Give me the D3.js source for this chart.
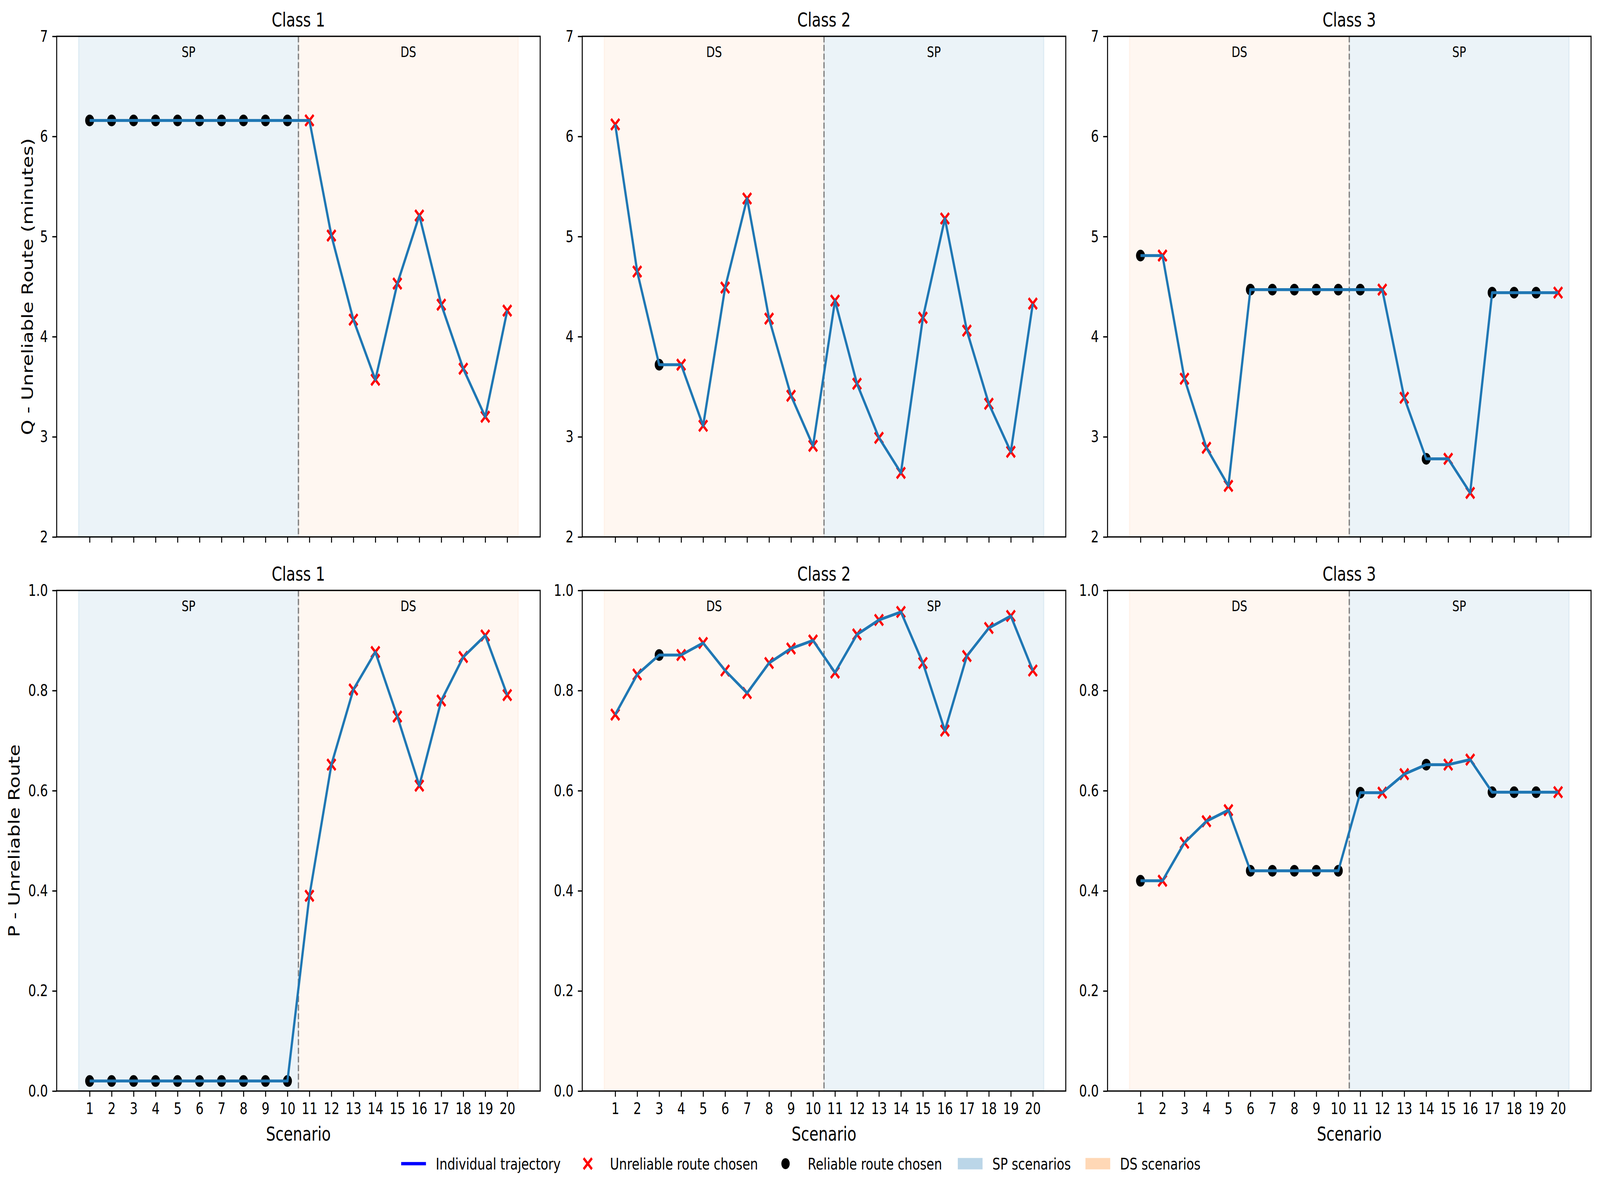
<!DOCTYPE html>
<html><head><meta charset="utf-8">
<script src="https://cdn.jsdelivr.net/npm/d3@7/dist/d3.min.js"></script>
<style>
html,body{margin:0;padding:0;background:#fff;overflow:hidden;width:100vw;height:100vh}
svg{display:block;width:100vw;height:100vh}
text{font-family:"DejaVu Sans",sans-serif;fill:#000}
</style>
</head><body>
<svg id="chart" viewBox="0 0 5364 3050" preserveAspectRatio="none"></svg>
<script>
// ---------------- data ----------------
const scenarios = [1,2,3,4,5,6,7,8,9,10,11,12,13,14,15,16,17,18,19,20];
const classNames = ["Class 1", "Class 2", "Class 3"];
const qTicks = [2, 3, 4, 5, 6, 7];
const pTicks = [0.0, 0.2, 0.4, 0.6, 0.8, 1.0];
const firstHalfRegime = ["SP", "DS", "DS"];
const secondHalfRegime = ["DS", "SP", "SP"];

const qClass1 = [6.16,6.16,6.16,6.16,6.16,6.16,6.16,6.16,6.16,6.16,6.16,5.01,4.17,3.57,4.53,5.21,4.32,3.68,3.20,4.26];
const qClass2 = [6.12,4.65,3.72,3.72,3.11,4.49,5.38,4.18,3.41,2.91,4.36,3.53,2.99,2.64,4.19,5.18,4.06,3.33,2.85,4.33];
const qClass3 = [4.81,4.81,3.58,2.89,2.51,4.47,4.47,4.47,4.47,4.47,4.47,4.47,3.39,2.78,2.78,2.44,4.44,4.44,4.44,4.44];

const pClass1 = [0.02,0.02,0.02,0.02,0.02,0.02,0.02,0.02,0.02,0.02,0.39,0.652,0.802,0.877,0.748,0.610,0.780,0.867,0.910,0.791];
const pClass2 = [0.752,0.832,0.871,0.871,0.895,0.840,0.795,0.855,0.884,0.900,0.836,0.912,0.941,0.957,0.855,0.720,0.869,0.925,0.949,0.840];
const pClass3 = [0.420,0.420,0.496,0.539,0.561,0.440,0.440,0.440,0.440,0.440,0.596,0.596,0.633,0.652,0.652,0.662,0.597,0.597,0.597,0.597];

// R = reliable route chosen, U = unreliable route chosen
const choiceClass1 = ["R","R","R","R","R","R","R","R","R","R","U","U","U","U","U","U","U","U","U","U"];
const choiceClass2 = ["U","U","R","U","U","U","U","U","U","U","U","U","U","U","U","U","U","U","U","U"];
const choiceClass3 = ["R","U","U","U","U","R","R","R","R","R","R","U","U","R","U","U","R","R","R","U"];

const legendLabels = ["Individual trajectory","Unreliable route chosen","Reliable route chosen","SP scenarios","DS scenarios"];

// ---------------- layout ----------------
const svg = d3.select("#chart");
const lefts = [190, 1952, 3713];
const tops = [93, 1512];
const PW = 1621, PH = 1282;
const FS = 41.67;            // 10pt @300dpi
const TICK = 14.6, PAD = 14.6;
const COLORS = {line:"#1f77b4", x:"#ff0000", dot:"#000000",
  spFill:"rgba(31,119,180,0.09)", dsFill:"rgba(255,127,14,0.06)",
  spLeg:"rgba(31,119,180,0.3)", dsLeg:"rgba(255,127,14,0.3)"};

const qSeries = [qClass1, qClass2, qClass3];
const pSeries = [pClass1, pClass2, pClass3];
const choices = [choiceClass1, choiceClass2, choiceClass3];

function panel(row, col) {
  const x0 = lefts[col], y0 = tops[row];
  const g = svg.append("g").attr("transform", `translate(${x0},${y0})`);
  const x = d3.scaleLinear().domain([-0.5, 21.5]).range([0, PW]);
  const y = row === 0 ? d3.scaleLinear().domain([2, 7]).range([PH, 0])
                      : d3.scaleLinear().domain([0, 1]).range([PH, 0]);
  const vals = row === 0 ? qSeries[col] : pSeries[col];
  const ch = choices[col];

  // regime spans
  const spans = [
    {a:0.5, b:10.5, r:firstHalfRegime[col]},
    {a:10.5, b:20.5, r:secondHalfRegime[col]}
  ];
  spans.forEach(s => {
    const fill = s.r === "SP" ? COLORS.spFill : COLORS.dsFill;
    g.append("rect").attr("x", x(s.a)).attr("y", 0)
      .attr("width", x(s.b) - x(s.a)).attr("height", PH)
      .attr("fill", fill).attr("stroke", fill).attr("stroke-width", 4);
    g.append("text").attr("x", x((s.a + s.b) / 2)).attr("y", 40)
      .attr("text-anchor", "middle").attr("dominant-baseline", "central")
      .style("font-size", "37.5px").text(s.r);
  });

  // divider
  g.append("line").attr("x1", x(10.5)).attr("x2", x(10.5))
    .attr("y1", 0).attr("y2", PH)
    .attr("stroke", "#7f7f7f").attr("stroke-width", 4.2)
    .attr("stroke-dasharray", "15.4,6.7");

  // markers
  const pts = scenarios.map((s, i) => ({s, v: vals[i], c: ch[i]}));
  g.selectAll(".dot").data(pts.filter(d => d.c === "R")).enter()
    .append("circle").attr("cx", d => x(d.s)).attr("cy", d => y(d.v))
    .attr("r", 15).attr("fill", COLORS.dot);
  const h = 14;
  g.selectAll(".xm").data(pts.filter(d => d.c === "U")).enter()
    .append("path")
    .attr("d", d => `M${x(d.s)-h},${y(d.v)-h}L${x(d.s)+h},${y(d.v)+h}M${x(d.s)-h},${y(d.v)+h}L${x(d.s)+h},${y(d.v)-h}`)
    .attr("stroke", COLORS.x).attr("stroke-width", 7).attr("fill", "none");

  // trajectory
  const line = d3.line().x(d => x(d.s)).y(d => y(d.v));
  g.append("path").datum(pts).attr("d", line)
    .attr("fill", "none").attr("stroke", COLORS.line)
    .attr("stroke-width", 7.5).attr("stroke-linejoin", "round");

  // axes
  const yAxis = d3.axisLeft(y).tickValues(row === 0 ? qTicks : pTicks)
    .tickFormat(row === 0 ? d3.format("d") : d3.format(".1f"))
    .tickSize(TICK).tickPadding(PAD);
  const ya = g.append("g").call(yAxis);
  const xAxis = d3.axisBottom(x).tickValues(scenarios).tickFormat(d3.format("d"))
    .tickSize(TICK).tickPadding(PAD);
  const xa = g.append("g").attr("transform", `translate(0,${PH})`).call(xAxis);
  [ya, xa].forEach(a => {
    a.select(".domain").remove();
    a.selectAll(".tick line").attr("stroke", "#000").attr("stroke-width", 3.33);
    a.selectAll(".tick text").style("font-size", FS + "px")
      .style("font-family", '"DejaVu Sans",sans-serif').attr("fill", "#000");
  });
  if (row === 0) xa.selectAll(".tick text").remove();

  // frame
  g.append("rect").attr("x", 0).attr("y", 0).attr("width", PW).attr("height", PH)
    .attr("fill", "none").attr("stroke", "#000").attr("stroke-width", 3.33);

  // title
  g.append("text").attr("x", PW / 2).attr("y", -25).attr("text-anchor", "middle")
    .style("font-size", "50px").text(classNames[col]);

  if (row === 1) {
    g.append("text").attr("x", PW / 2).attr("y", PH + 127).attr("text-anchor", "middle")
      .style("font-size", "50px").text("Scenario");
  }
}

for (let r = 0; r < 2; r++) for (let c = 0; c < 3; c++) panel(r, c);

// y labels
svg.append("text").attr("transform", `translate(92,${tops[0] + PH / 2}) rotate(-90)`)
  .attr("text-anchor", "middle").attr("dominant-baseline", "central")
  .style("font-size", "50px").text("Q - Unreliable Route (minutes)");
svg.append("text").attr("transform", `translate(48,${tops[1] + PH / 2}) rotate(-90)`)
  .attr("text-anchor", "middle").attr("dominant-baseline", "central")
  .style("font-size", "50px").text("P - Unreliable Route");

// legend
const lg = svg.append("g").attr("transform", "translate(0,2980)");
const legX = [1345, 1929, 2592, 3211, 3639];
const handleW = 83;
legendLabels.forEach((lab, i) => {
  const hx = legX[i];
  const cx = hx + handleW / 2;
  if (i === 0) {
    lg.append("line").attr("x1", hx).attr("x2", hx + handleW).attr("y1", 0).attr("y2", 0)
      .attr("stroke", "#0000ff").attr("stroke-width", 8.3);
  } else if (i === 1) {
    const h = 14;
    lg.append("path").attr("d", `M${cx-h},${-h}L${cx+h},${h}M${cx-h},${h}L${cx+h},${-h}`)
      .attr("stroke", COLORS.x).attr("stroke-width", 7).attr("fill", "none");
  } else if (i === 2) {
    lg.append("circle").attr("cx", cx).attr("cy", 0).attr("r", 14).attr("fill", "#000");
  } else {
    lg.append("rect").attr("x", hx).attr("y", -14.6).attr("width", handleW).attr("height", 29.2)
      .attr("fill", i === 3 ? COLORS.spLeg : COLORS.dsLeg);
  }
  lg.append("text").attr("x", hx + handleW + 33).attr("y", 15)
    .style("font-size", FS + "px").text(lab);
});
</script>
</body></html>
